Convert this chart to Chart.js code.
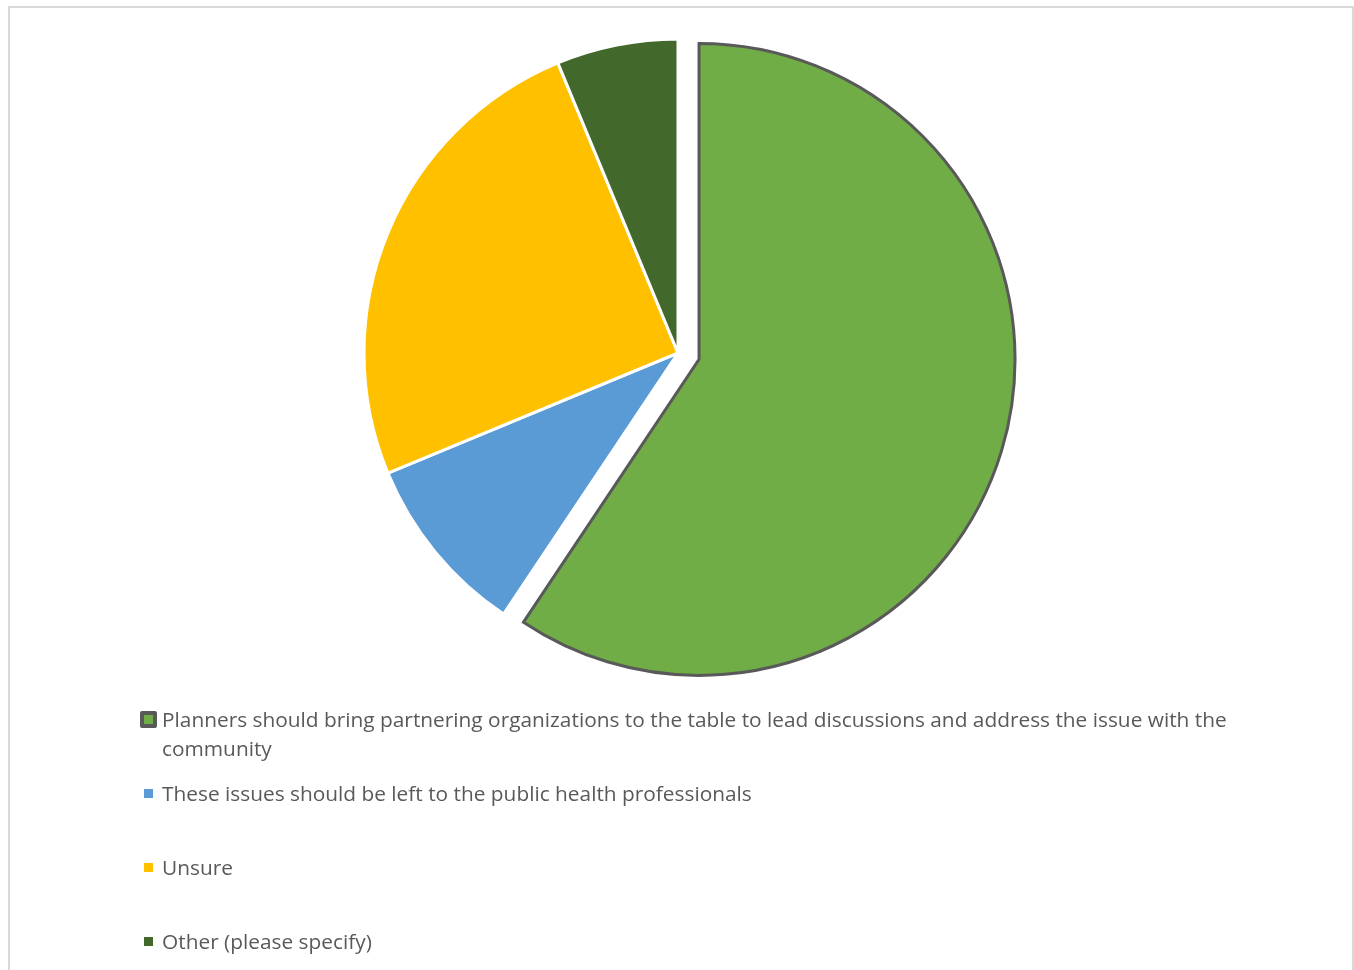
<!DOCTYPE html>
<html>
<head>
<meta charset="utf-8">
<script src="https://cdn.jsdelivr.net/npm/chart.js@4.4.1/dist/chart.umd.min.js"></script>
<style>
  body { margin: 0; background: #fff; }
  #frame { position: absolute; left: 8px; top: 6px; width: 1342px; height: 990px; border: 2px solid #d9d9d9; }
  #c { position: absolute; left: 0; top: 0; }
  #legend { position: absolute; left: 140px; top: 705px; font-family: "Open Sans", sans-serif; font-size: 20.85px; color: #595959; }
  .item { height: 74px; display: flex; align-items: flex-start; line-height: 29px; }
  .mk { width: 17px; height: 29px; display: flex; align-items: center; justify-content: center; flex: none; margin-right: 5px; }
  .mk span { display: block; box-sizing: border-box; }
  .txt { width: 1110px; }
</style>
</head>
<body>
<div id="frame"></div>
<canvas id="c" width="1354" height="970"></canvas>
<div id="legend"></div>
<script>
const etiquetas = [
  'Planners should bring partnering organizations to the table to lead discussions and address the issue with the community',
  'These issues should be left to the public health professionals',
  'Unsure',
  'Other (please specify)'
];
const respuestas = [19, 3, 8, 2];
const colores = ['#70AD47', '#5B9BD5', '#FFC000', '#43682B'];
const bordes = ['#595959', '#ffffff', '#ffffff', '#ffffff'];
// Chart.js dibuja el desplazamiento del arco dividido por 4
const separacion = [88, 0, 0, 0];

// el arco desplazado crece en offset/4 y se achica en angulo; lo dejo como el resto
const radioFijo = {
  id: 'radioFijo',
  afterDatasetsUpdate(chart) {
    chart.getDatasetMeta(0).data.forEach(arc => {
      const off = (arc.options.offset || 0) / 4;
      if (!off) return;
      arc.outerRadius = arc.outerRadius - off + 2;
      const a = off / (2 * Math.PI * (arc.outerRadius + off));
      arc.startAngle -= a;
      arc.endAngle += a;
    });
  }
};

new Chart(document.getElementById('c'), {
  type: 'pie',
  data: {
    labels: etiquetas,
    datasets: [{
      data: respuestas,
      backgroundColor: colores,
      borderColor: bordes,
      borderWidth: 3,
      borderJoinStyle: 'miter',
      offset: separacion,
      hoverOffset: 0,
      radius: 314
    }]
  },
  options: {
    responsive: false,
    animation: false,
    layout: { padding: { top: 0, bottom: 264, left: 2, right: 0 } },
    plugins: { legend: { display: false }, tooltip: { enabled: false } }
  },
  plugins: [radioFijo]
});

const leyenda = document.getElementById('legend');
etiquetas.forEach((txt, i) => {
  const item = document.createElement('div');
  item.className = 'item';
  const tieneBorde = bordes[i] !== '#ffffff';
  const size = tieneBorde ? 17 : 9;
  const estilo = tieneBorde
    ? `width:${size}px;height:${size}px;background:${colores[i]};border:4px solid ${bordes[i]};border-radius:2px`
    : `width:${size}px;height:${size}px;background:${colores[i]}`;
  item.innerHTML = `<div class="mk"><span style="${estilo}"></span></div><div class="txt">${txt}</div>`;
  leyenda.appendChild(item);
});
</script>
</body>
</html>
